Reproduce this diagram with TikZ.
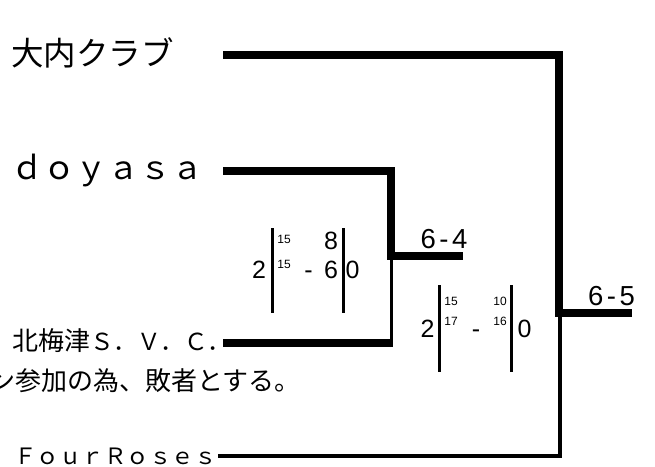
\documentclass[tikz,border=0pt]{standalone}
\usepackage{fontspec}
\setmainfont{Liberation Sans}
\newfontfamily\jpfont{Noto Sans CJK JP}
\begin{document}
\begin{tikzpicture}[x=1pt,y=-1pt,
  bracket/.style={line width=8pt, line cap=butt, line join=miter},
  feeder/.style={line width=4pt, line cap=butt, line join=miter},
  bar/.style={line width=3pt},
  team/.style={inner sep=0pt, anchor=base west},
  big/.style={inner sep=0pt, anchor=base, font=\fontsize{25}{28}\selectfont},
  small/.style={inner sep=0pt, anchor=base, font=\fontsize{12}{14}\selectfont},
  result/.style={inner sep=0pt, anchor=base, font=\fontsize{27.5}{30}\selectfont}]
\path[use as bounding box] (0,0) rectangle (655,466);

% team names
\node[team, font=\jpfont\fontsize{32.5}{36}\selectfont] (oouchi) at (11,65) {大内クラブ};
\node[team, font=\jpfont\fontsize{32}{36}\selectfont] (doyasa) at (11,179) {ｄｏｙａｓａ};
\node[team, font=\jpfont\fontsize{26}{30}\selectfont] (kita) at (12,350) {北梅津{\fontsize{23.5}{28}\selectfont Ｓ．Ｖ．Ｃ．}};
\node[team, font=\jpfont\fontsize{26}{30}\selectfont] (note) at (-11,390) {ン参加の為、敗者とする。};
\node[team, font=\jpfont\fontsize{22.5}{26}\selectfont] (four) at (14,464) {ＦｏｕｒＲｏｓｅｓ};

% connector points
\coordinate (a1) at (223,55);
\coordinate (a2) at (559,55);
\coordinate (a3) at (559,313);
\coordinate (a4) at (632,313);
\coordinate (b1) at (223,171);
\coordinate (b2) at (391,171);
\coordinate (b3) at (391,255.5);
\coordinate (b4) at (463,255.5);
\coordinate (c1) at (223,343);
\coordinate (c2) at (393,343);
\coordinate (c3) at (391.5,347);
\coordinate (c4) at (391.5,256);
\coordinate (d1) at (218,455.5);
\coordinate (d2) at (560,455.5);
\coordinate (d3) at (560,314);

\draw[bracket] (a1) -- (a2) -- (a3) -- (a4);
\draw[bracket] (b1) -- (b2) -- (b3) -- (b4);
\draw[bracket] (c1) -- (c2);
\draw[line width=3.5pt] (c3) -- (c4);
\draw[feeder] (d1) -- (d2) -- (d3);

% results
\node[result] (r64) at (444,248) {6\hspace{3.5pt}-\hspace{3.5pt}4};
\node[result] (r65) at (611.5,305) {6\hspace{3.5pt}-\hspace{3.5pt}5};

% score box 1
\node[big] (s1a) at (259,278) {2};
\draw[bar] (272,228) -- (272,313);
\node[small] (s1b) at (284,243) {15};
\node[small] (s1c) at (284,268) {15};
\node[big] (s1d) at (308.5,278) {-};
\node[big] (s1e) at (331,249) {8};
\node[big] (s1f) at (331,278) {6};
\draw[bar] (343,228) -- (343,313);
\node[big] (s1g) at (352.5,278) {0};

% score box 2
\node[big] (s2a) at (427.5,337) {2};
\draw[bar] (439,285) -- (439,372);
\node[small] (s2b) at (451,305) {15};
\node[small] (s2c) at (451,325.5) {17};
\node[big] (s2d) at (476,337) {-};
\node[small] (s2e) at (500,305) {10};
\node[small] (s2f) at (500,325.5) {16};
\draw[bar] (511,285) -- (511,372);
\node[big] (s2g) at (524.5,337) {0};
\end{tikzpicture}
\end{document}
